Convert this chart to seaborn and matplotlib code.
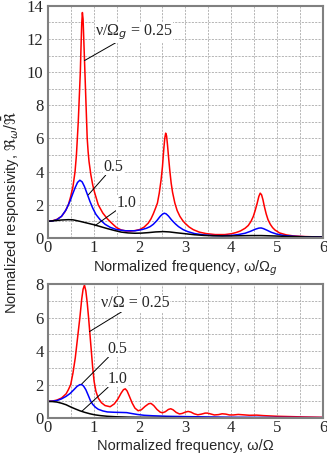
import matplotlib
matplotlib.use("Agg")
import matplotlib.pyplot as plt
import seaborn as sns
from matplotlib.ticker import MultipleLocator

# --- top panel: omega / Omega_g ---
top_red_x = [0.0, 0.1, 0.2, 0.3, 0.38, 0.45, 0.5, 0.55, 0.595, 0.625, 0.645, 0.665, 0.68, 0.695, 0.71, 0.725,
             0.74, 0.755, 0.77, 0.785, 0.8, 0.81, 0.825, 0.84, 0.86, 0.88, 0.9, 0.94, 0.98, 1.02, 1.1, 1.2,
             1.3, 1.39, 1.5, 1.6, 1.7, 1.8, 1.9, 2.0, 2.1, 2.19, 2.25, 2.3, 2.35, 2.39, 2.43, 2.47, 2.5,
             2.53, 2.55, 2.57, 2.59, 2.61, 2.635, 2.66, 2.69, 2.72, 2.77, 2.82, 2.88, 2.94, 2.99, 3.08, 3.17,
             3.3, 3.45, 3.65, 3.86, 4.0, 4.1, 4.2, 4.3, 4.37, 4.43, 4.48, 4.52, 4.56, 4.6, 4.63, 4.66, 4.69,
             4.72, 4.76, 4.8, 4.85, 4.9, 4.95, 5.05, 5.2, 5.35, 5.6, 6.0]
top_red_y = [1.0, 1.03, 1.12, 1.3, 1.6, 2.0, 2.5, 3.1, 4.0, 5.0, 6.0, 7.0, 8.0, 9.0, 10.0, 11.5,
             12.9, 13.6, 13.2, 12.0, 10.8, 10.0, 8.8, 7.6, 6.0, 5.2, 4.6, 3.8, 3.2, 2.75, 2.0, 1.5,
             1.15, 0.9, 0.62, 0.48, 0.42, 0.41, 0.44, 0.5, 0.65, 0.89, 1.15, 1.45, 1.8, 2.1, 2.7, 3.5, 4.3,
             5.4, 6.0, 6.32, 6.15, 5.6, 4.8, 4.06, 3.3, 2.75, 2.1, 1.65, 1.3, 1.05, 0.89, 0.66, 0.5,
             0.35, 0.26, 0.2, 0.2, 0.25, 0.32, 0.42, 0.58, 0.75, 1.0, 1.3, 1.65, 2.05, 2.5, 2.7, 2.6, 2.3,
             1.9, 1.45, 1.1, 0.82, 0.62, 0.48, 0.3, 0.18, 0.12, 0.08, 0.05]

top_blue_x = [0.0, 0.1, 0.2, 0.3, 0.4, 0.49, 0.55, 0.6, 0.65, 0.7, 0.75, 0.8, 0.86, 0.92, 0.98, 1.05, 1.14,
              1.25, 1.36, 1.5, 1.7, 1.9, 2.05, 2.15, 2.23, 2.3, 2.38, 2.45, 2.5, 2.54, 2.58, 2.63, 2.7, 2.78,
              2.85, 2.95, 3.05, 3.2, 3.4, 3.6, 3.8, 4.0, 4.15, 4.3, 4.42, 4.52, 4.6, 4.65, 4.7, 4.78, 4.87,
              5.0, 5.15, 5.4, 5.7, 6.0]
top_blue_y = [1.0, 1.02, 1.1, 1.3, 1.7, 2.25, 2.7, 3.05, 3.35, 3.48, 3.38, 3.1, 2.65, 2.2, 1.8, 1.42, 1.1,
              0.82, 0.64, 0.5, 0.43, 0.43, 0.5, 0.58, 0.68, 0.82, 1.05, 1.3, 1.43, 1.49, 1.45, 1.32, 1.08, 0.85,
              0.68, 0.5, 0.38, 0.26, 0.18, 0.14, 0.13, 0.15, 0.2, 0.28, 0.4, 0.52, 0.59, 0.6, 0.56, 0.46, 0.34,
              0.22, 0.14, 0.09, 0.06, 0.05]

top_black_x = [0.0, 0.15, 0.3, 0.45, 0.55, 0.7, 0.85, 1.0, 1.15, 1.3, 1.45, 1.6, 1.75, 1.9, 2.05, 2.2, 2.35,
               2.52, 2.65, 2.8, 3.0, 3.2, 3.4, 3.6, 3.8, 4.0, 4.2, 4.45, 4.65, 4.9, 5.2, 5.6, 6.0]
top_black_y = [1.0, 1.04, 1.08, 1.1, 1.09, 1.0, 0.9, 0.8, 0.68, 0.56, 0.45, 0.35, 0.3, 0.28, 0.29, 0.32, 0.36,
               0.38, 0.36, 0.31, 0.25, 0.19, 0.15, 0.13, 0.12, 0.12, 0.13, 0.14, 0.14, 0.12, 0.09, 0.06, 0.05]

# --- bottom panel: omega / Omega ---
bot_red_x = [0.0, 0.1, 0.2, 0.3, 0.4, 0.45, 0.5, 0.55, 0.6, 0.65, 0.7, 0.74, 0.77, 0.8, 0.83, 0.86, 0.89,
             0.92, 0.95, 0.98, 1.01, 1.05, 1.1, 1.17, 1.25, 1.36, 1.45, 1.53, 1.6, 1.65, 1.69, 1.73, 1.78,
             1.84, 1.9, 1.97, 2.04, 2.12, 2.2, 2.25, 2.31, 2.38, 2.45, 2.5, 2.56, 2.63, 2.68, 2.73, 2.8,
             2.87, 2.93, 3.0, 3.06, 3.12, 3.19, 3.27, 3.35, 3.43, 3.48, 3.55, 3.63, 3.72, 3.8, 3.88, 3.96,
             4.05, 4.15, 4.25, 4.4, 4.55, 4.7, 5.0, 5.3, 5.6, 6.0]
bot_red_y = [1.0, 1.02, 1.08, 1.2, 1.45, 1.7, 2.0, 2.7, 3.6, 4.8, 6.0, 7.1, 7.7, 7.95, 7.6, 6.9, 6.0,
             5.0, 4.0, 3.0, 2.2, 1.6, 1.2, 0.92, 0.75, 0.68, 0.85, 1.15, 1.5, 1.7, 1.75, 1.62, 1.3,
             0.9, 0.6, 0.44, 0.5, 0.7, 0.86, 0.88, 0.75, 0.52, 0.36, 0.32, 0.38, 0.52, 0.56, 0.5, 0.34,
             0.25, 0.28, 0.36, 0.4, 0.36, 0.26, 0.2, 0.24, 0.3, 0.3, 0.25, 0.19, 0.21, 0.26, 0.24, 0.19,
             0.19, 0.22, 0.2, 0.17, 0.18, 0.15, 0.11, 0.09, 0.07, 0.05]

bot_blue_x = [0.0, 0.1, 0.2, 0.3, 0.4, 0.49, 0.57, 0.64, 0.7, 0.74, 0.78, 0.83, 0.88, 0.93, 0.98, 1.04, 1.1,
              1.2, 1.3, 1.45, 1.6, 1.72, 1.82, 1.95, 2.1, 2.3, 2.6, 3.0, 3.5, 4.0, 5.0, 6.0]
bot_blue_y = [1.0, 1.01, 1.05, 1.15, 1.3, 1.48, 1.7, 1.9, 2.0, 2.0, 1.92, 1.7, 1.38, 1.05, 0.82, 0.65, 0.53,
              0.43, 0.37, 0.35, 0.34, 0.33, 0.28, 0.22, 0.17, 0.14, 0.11, 0.09, 0.07, 0.05, 0.04, 0.03]

bot_black_x = [0.0, 0.1, 0.2, 0.3, 0.4, 0.49, 0.6, 0.7, 0.8, 0.92, 1.02, 1.15, 1.3, 1.5, 1.75, 2.0, 3.0, 6.0]
bot_black_y = [1.0, 0.99, 0.96, 0.89, 0.8, 0.68, 0.55, 0.44, 0.35, 0.26, 0.2, 0.15, 0.11, 0.08, 0.06, 0.05,
               0.03, 0.02]

sns.set_style("white")
plt.rcParams["mathtext.fontset"] = "dejavusans"
serif = ["Liberation Serif", "DejaVu Serif"]
sans = ["Liberation Sans", "DejaVu Sans"]

fig = plt.figure(figsize=(3.27, 4.54), dpi=100)
ax1 = fig.add_axes([0.146, 0.476, 0.842, 0.511])
ax2 = fig.add_axes([0.146, 0.079, 0.842, 0.295])


def style_axes(ax, ymax, xlabel):
    ax.set_xlim(0, 6)
    ax.set_ylim(0, ymax)
    ax.xaxis.set_major_locator(MultipleLocator(1))
    ax.xaxis.set_minor_locator(MultipleLocator(0.5))
    ax.yaxis.set_major_locator(MultipleLocator(2))
    ax.yaxis.set_minor_locator(MultipleLocator(1))
    ax.grid(which="both", color="#aaaaaa", linestyle=(0, (2.5, 1.5)), linewidth=0.6)
    ax.set_axisbelow(True)
    ax.tick_params(which="both", length=0)
    ax.tick_params(axis="x", pad=1.5)
    ax.tick_params(axis="y", pad=3)
    for lab in ax.get_xticklabels() + ax.get_yticklabels():
        lab.set_fontfamily(serif)
        lab.set_fontsize(12)
    for sp in ax.spines.values():
        sp.set_color("#808080")
        sp.set_linewidth(1.5)
    ax.set_xlabel(xlabel, fontsize=10.5, family=sans, labelpad=2)
    ax.set_ylabel("")


sns.lineplot(x=top_red_x, y=top_red_y, ax=ax1, color="#ff0000", lw=1.1, estimator=None)
sns.lineplot(x=top_blue_x, y=top_blue_y, ax=ax1, color="#0000ff", lw=1.1, estimator=None)
sns.lineplot(x=top_black_x, y=top_black_y, ax=ax1, color="black", lw=1.1, estimator=None)
style_axes(ax1, 14, "Normalized frequency, ω/Ω$_g$")

sns.lineplot(x=bot_red_x, y=bot_red_y, ax=ax2, color="#ff0000", lw=1.1, estimator=None)
sns.lineplot(x=bot_blue_x, y=bot_blue_y, ax=ax2, color="#0000ff", lw=1.1, estimator=None)
sns.lineplot(x=bot_black_x, y=bot_black_y, ax=ax2, color="black", lw=1.1, estimator=None)
style_axes(ax2, 8, "Normalized frequency, ω/Ω")

ann_kw = dict(fontsize=11.5, family=serif, va="center", ha="left",
              bbox=dict(facecolor="white", edgecolor="none", pad=0.3),
              arrowprops=dict(arrowstyle="-", color="black", lw=0.7, shrinkA=0, shrinkB=0))

# top panel labels
ax1.annotate("ν/Ω$_g$ = 0.25", xy=(0.80, 10.7), xytext=(1.03, 12.4), **ann_kw)
ax1.annotate("0.5", xy=(0.885, 2.6), xytext=(1.21, 4.3), **ann_kw)
ax1.annotate("1.0", xy=(1.02, 0.72), xytext=(1.5, 2.1), **ann_kw)

# bottom panel labels
ax2.annotate("ν/Ω = 0.25", xy=(0.91, 5.17), xytext=(1.16, 6.85), **ann_kw)
ax2.annotate("0.5", xy=(0.74, 2.04), xytext=(1.29, 4.15), **ann_kw)
ax2.annotate("1.0", xy=(0.74, 0.4), xytext=(1.30, 2.35), **ann_kw)

fig.text(0.033, 0.531, r"Normalized responsivity, $\Re_\omega/\bar{\Re}$", rotation=90,
         fontsize=10.5, family=sans, ha="center", va="center")

fig.savefig("out.png", dpi=100)
